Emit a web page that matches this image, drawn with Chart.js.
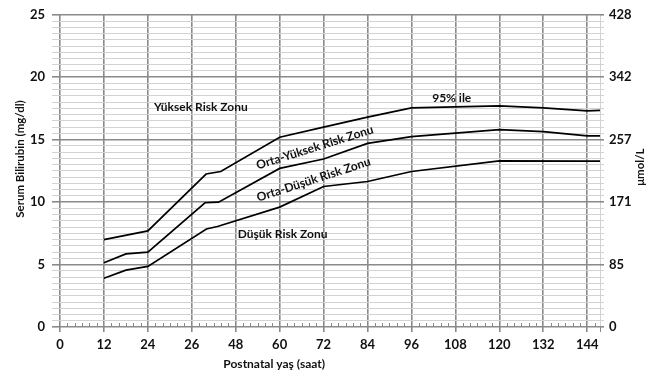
<!DOCTYPE html>
<html><head><meta charset="utf-8">
<script src="https://cdn.jsdelivr.net/npm/chart.js@4/dist/chart.umd.min.js"></script>
<style>html,body{margin:0;padding:0;background:#fff}#wrap{width:652px;height:378px;position:relative}</style>
</head><body><div id="wrap"><canvas id="c"></canvas></div>
<script>
// ---- data ----
const hours95 = [12, 24, 39.9, 43.9, 60, 72, 84, 96, 120, 132, 144, 147.5];
const p95     = [7.0, 7.7, 12.25, 12.45, 15.2, 16.0, 16.8, 17.55, 17.7, 17.55, 17.3, 17.35];
const hours75 = [12, 18, 24, 39.6, 43.3, 60, 72, 84, 96, 120, 132, 144, 147.5];
const p75     = [5.15, 5.85, 6.0, 9.95, 10.0, 12.7, 13.45, 14.7, 15.25, 15.8, 15.65, 15.3, 15.3];
const hours40 = [12, 18, 24, 40, 43, 60, 72, 84, 96, 120, 144, 147.5];
const p40     = [3.9, 4.55, 4.85, 7.85, 8.05, 9.6, 11.25, 11.65, 12.45, 13.3, 13.28, 13.28];

const xTickValues = [0, 12, 24, 36, 48, 60, 72, 84, 96, 108, 120, 132, 144];
const xTickLabels = ['0', '12', '24', '26', '48', '60', '72', '84', '96', '108', '120', '132', '144'];
const yTickValues = [0, 5, 10, 15, 20, 25];
const yTickLabels = ['0', '5', '10', '15', '20', '25'];
const y2TickLabels = ['0', '85', '171', '257', '342', '428'];

const zoneLabels = [
  { text: 'Yüksek Risk Zonu', x: 38.5, y: 17.6, rot: 0 },
  { text: '95% ile', x: 107, y: 18.3, rot: 0 },
  { text: 'Orta-Yüksek Risk Zonu', x: 69.6, y: 14.37, rot: -17.4 },
  { text: 'Orta-Düşük Risk Zonu', x: 69.3, y: 11.8, rot: -18.0 },
  { text: 'Düşük Risk Zonu', x: 60.8, y: 7.4, rot: 0 }
];

const X_MAX = 147.5;
const FONT = 'Lato';
const majorGrid = '#8a8a8a';
const minorGrid = '#d3d3d3';

const toPts = (xs, ys) => xs.map((x, i) => ({ x: x, y: ys[i] }));

// minor gridlines every 0.5 units
const yAllTicks = [];
for (let i = 0; i <= 50; i++) yAllTicks.push(i / 2);
// small tick marks every 2 hours along the x axis
const xMinor = [];
for (let h = 2; h < X_MAX; h += 2) if (h % 12 !== 0) xMinor.push(h);

const isMajorY = v => Math.abs(v % 5) < 1e-9;

const decor = {
  id: 'decor',
  beforeDatasetsDraw(chart) {
    const { ctx, scales: { x, y } } = chart;
    ctx.save();
    ctx.strokeStyle = majorGrid;
    ctx.lineWidth = 1;
    const y0 = y.getPixelForValue(0);
    xMinor.forEach(h => {
      const px = Math.round(x.getPixelForValue(h)) + 0.5;
      ctx.beginPath(); ctx.moveTo(px, y0); ctx.lineTo(px, y0 - 4); ctx.stroke();
    });
    ctx.restore();
  },
  afterDatasetsDraw(chart) {
    const { ctx, scales: { x, y } } = chart;
    ctx.save();
    ctx.fillStyle = '#111';
    ctx.font = 'bold 12px ' + FONT;
    ctx.textAlign = 'center';
    ctx.textBaseline = 'middle';
    zoneLabels.forEach(l => {
      ctx.save();
      ctx.translate(x.getPixelForValue(l.x), y.getPixelForValue(l.y));
      ctx.rotate(l.rot * Math.PI / 180);
      ctx.fillText(l.text, 0, 0);
      ctx.restore();
    });
    // axis titles
    ctx.font = 'bold 12px ' + FONT;
    ctx.fillText('Postnatal yaş (saat)', x.getPixelForValue(58.5), 364);
    ctx.font = 'bold 11.5px ' + FONT;
    ctx.save();
    ctx.translate(20, y.getPixelForValue(13.45));
    ctx.rotate(-Math.PI / 2);
    ctx.fillText('Serum Bilirubin (mg/dl)', 0, 0);
    ctx.restore();
    ctx.save();
    ctx.translate(640, y.getPixelForValue(12.8));
    ctx.rotate(-Math.PI / 2);
    ctx.fillText('μmol/L', 0, 0);
    ctx.restore();
    ctx.restore();
  }
};

const lineStyle = { borderColor: '#000', borderWidth: 1.7, pointRadius: 0, fill: false, tension: 0 };

new Chart(document.getElementById('c'), {
  type: 'line',
  data: {
    datasets: [
      Object.assign({ label: '95%', data: toPts(hours95, p95) }, lineStyle),
      Object.assign({ label: '75%', data: toPts(hours75, p75) }, lineStyle),
      Object.assign({ label: '40%', data: toPts(hours40, p40) }, lineStyle)
    ]
  },
  options: {
    responsive: true,
    maintainAspectRatio: false,
    animation: false,
    events: [],
    layout: { padding: { top: 13, left: 0, right: 0, bottom: 0 } },
    plugins: { legend: { display: false }, tooltip: { enabled: false } },
    scales: {
      x: {
        type: 'linear', min: 0, max: X_MAX,
        afterBuildTicks: s => { s.ticks = xTickValues.concat([X_MAX]).map(v => ({ value: v })); },
        afterFit: s => { s.height = 51; },
        ticks: {
          autoSkip: false, maxRotation: 0, padding: 5, color: '#111',
          font: { family: FONT, weight: 'bold', size: 13 },
          callback: v => { const i = xTickValues.indexOf(v); return i >= 0 ? xTickLabels[i] : ''; }
        },
        grid: {
          color: c => (c.tick && c.tick.value === X_MAX) ? minorGrid : majorGrid,
          lineWidth: c => (c.tick && c.tick.value === X_MAX) ? 1 : 1.6,
          tickLength: 5, tickColor: majorGrid
        },
        border: { display: false }
      },
      y: {
        type: 'linear', position: 'left', min: 0, max: 25,
        afterBuildTicks: s => { s.ticks = yAllTicks.map(v => ({ value: v })); },
        afterFit: s => { s.width = 60; },
        ticks: {
          autoSkip: false, padding: 7, color: '#111',
          font: { family: FONT, weight: 'bold', size: 13 },
          callback: v => { const i = yTickValues.indexOf(v); return i >= 0 ? yTickLabels[i] : ''; }
        },
        grid: {
          color: c => (c.tick && isMajorY(c.tick.value)) ? majorGrid : minorGrid,
          lineWidth: c => (c.tick && isMajorY(c.tick.value)) ? 1.6 : 1,
          tickLength: 8
        },
        border: { display: false }
      },
      y2: {
        type: 'linear', position: 'right', min: 0, max: 25,
        afterBuildTicks: s => { s.ticks = yAllTicks.map(v => ({ value: v })); },
        afterFit: s => { s.width = 52; },
        ticks: {
          autoSkip: false, padding: 5, color: '#111',
          font: { family: FONT, weight: 'bold', size: 13 },
          callback: v => { const i = yTickValues.indexOf(v); return i >= 0 ? y2TickLabels[i] : ''; }
        },
        grid: {
          drawOnChartArea: false,
          color: c => (c.tick && isMajorY(c.tick.value)) ? majorGrid : minorGrid,
          lineWidth: c => (c.tick && isMajorY(c.tick.value)) ? 1.6 : 1,
          tickLength: 4
        },
        border: { display: false }
      }
    }
  },
  plugins: [decor]
});
</script>
</body></html>
